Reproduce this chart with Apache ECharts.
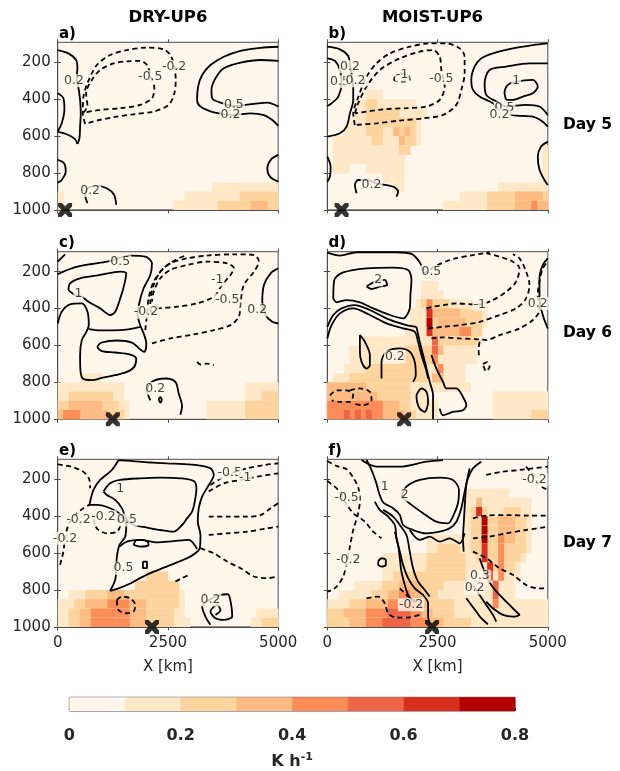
<!DOCTYPE html>
<html><head><meta charset="utf-8">
<script src="https://cdn.jsdelivr.net/npm/echarts@6/dist/echarts.min.js"></script>
<style>html,body{margin:0;padding:0;background:#fff}#c{width:620px;height:771px}</style>
</head><body><div id="c"></div>
<script>
// ---------- DATA ----------
const colTitles = ['DRY-UP6', 'MOIST-UP6'];
const dayLabels = ['Day 5', 'Day 6', 'Day 7'];
const panelLetters = ['a)', 'b)', 'c)', 'd)', 'e)', 'f)'];
const xTicks = [0, 2500, 5000];
const pTicks = [200, 400, 600, 800, 1000];
const cbBins = [0, 0.1, 0.2, 0.3, 0.4, 0.5, 0.6, 0.7, 0.8];
const cbTicks = [0, 0.2, 0.4, 0.6, 0.8];
const crossX = [167, 324, 1250, 1742, 2138, 2375];

// heating blocks: [pressure top (hPa, 50 hPa band), x start km, x end km, heating K/h]
const heatA = [
 [850,3500,5000,.15],
 [900,0,125,.15],[900,2875,5000,.15],[900,4125,5000,.25],
 [950,0,125,.15],[950,2625,5000,.15],[950,3625,5000,.25],[950,4375,4750,.35]
];
const heatB = [
 [350,875,1250,.15],
 [400,625,2000,.15],[400,875,1125,.25],
 [450,625,2250,.15],[450,875,1625,.25],
 [500,500,2125,.15],[500,875,2000,.25],
 [550,375,2125,.15],[550,875,1250,.25],[550,1500,2000,.25],[550,1500,1625,.35],[550,1750,1875,.35],
 [600,125,2125,.15],[600,1000,1250,.25],[600,1625,2000,.25],[600,1625,1750,.35],
 [650,125,1875,.15],[650,1625,1875,.25],[650,4875,5000,.15],
 [700,125,1750,.15],[700,4875,5000,.15],
 [750,125,500,.15],[750,875,1750,.15],[750,4875,5000,.15],
 [800,1250,1750,.15],[800,4875,5000,.15],
 [850,1500,1750,.15],[850,3875,5000,.15],
 [900,3000,5000,.15],[900,3625,5000,.25],[900,4250,4875,.35],
 [950,2625,5000,.15],[950,3625,5000,.25],[950,4250,5000,.35],[950,4625,4750,.45]
];
const heatC = [
 [750,500,1000,.15],
 [800,0,1500,.15],[800,4250,5000,.15],
 [850,0,1500,.15],[850,250,1250,.25],[850,4250,5000,.15],[850,4625,5000,.25],
 [900,0,1625,.15],[900,0,1375,.25],[900,250,1000,.35],[900,3375,5000,.15],[900,4250,5000,.25],
 [950,0,1625,.15],[950,0,1500,.25],[950,0,1125,.35],[950,125,500,.45],[950,3375,5000,.15],[950,4250,5000,.25]
];
const heatD = [
 [250,2125,2500,.15],
 [300,2125,2625,.15],
 [350,2000,3625,.15],[350,2125,2750,.25],[350,2250,2375,.45],
 [400,1875,3625,.15],[400,2375,3500,.25],[400,2375,3000,.35],[400,2250,2375,.65],
 [450,1875,3625,.15],[450,2375,3500,.25],[450,2500,3125,.35],[450,2250,2375,.75],
 [500,1750,3500,.15],[500,2375,3500,.25],[500,2375,3000,.35],[500,3000,3250,.45],[500,2250,2375,.65],
 [550,750,3500,.15],[550,2375,3375,.25],[550,2375,2500,.55],
 [600,500,3375,.15],[600,1750,2500,.25],[600,2375,2625,.35],[600,2375,2500,.55],
 [650,500,3375,.15],[650,1625,2375,.25],[650,2375,2500,.45],
 [700,375,3125,.15],[700,875,2250,.25],[700,2500,2625,.45],
 [750,125,3125,.15],[750,500,2250,.25],[750,2375,2625,.35],
 [800,0,3250,.15],[800,0,1875,.25],[800,0,875,.35],
 [850,0,2250,.15],[850,0,1875,.25],[850,0,1125,.35],[850,3750,5000,.15],
 [900,0,2500,.15],[900,0,1875,.25],[900,0,1625,.35],[900,0,1250,.45],[900,3750,5000,.15],
 [950,0,2500,.15],[950,0,2000,.25],[950,0,1750,.35],[950,0,1250,.45],[950,375,500,.55],[950,625,750,.55],[950,875,1000,.55],[950,3750,5000,.15],[950,4625,5000,.25]
];
const heatE = [
 [700,2000,2500,.25],
 [750,1750,2750,.25],
 [800,250,2875,.15],[800,625,2750,.25],[800,1125,1500,.35],
 [850,0,2875,.15],[850,375,2750,.25],[850,625,1125,.35],[850,1125,1625,.45],[850,1625,2000,.35],
 [900,0,2875,.15],[900,250,2625,.25],[900,500,2000,.35],[900,750,1625,.45],[900,4500,5000,.15],
 [950,0,3000,.15],[950,250,2625,.25],[950,500,2000,.35],[950,750,1625,.45],[950,4375,5000,.15],[950,4625,5000,.25]
];
const heatF = [
 [250,3125,4125,.15],
 [300,3125,4625,.15],[300,3375,3500,.35],
 [350,3125,4625,.15],[350,3250,3625,.25],[350,4000,4375,.25],[350,3375,3500,.65],
 [400,3125,4625,.15],[400,3250,4500,.25],[400,3875,4250,.35],[400,3500,3625,.75],
 [450,3125,4625,.15],[450,3250,4500,.25],[450,3875,4250,.35],[450,3500,3625,.75],
 [500,2250,4625,.15],[500,3250,4500,.25],[500,3875,4250,.35],[500,3875,4000,.45],[500,3500,3625,.75],
 [550,2250,4625,.15],[550,2500,3000,.25],[550,3250,4500,.25],[550,3875,4000,.45],[550,3500,3625,.65],
 [600,1250,4500,.15],[600,2250,3125,.25],[600,3375,4375,.25],[600,3875,4000,.45],[600,3500,3625,.65],
 [650,1250,4375,.15],[650,2250,3125,.25],[650,3625,4250,.25],[650,3875,4000,.45],[650,3625,3750,.65],
 [700,1250,4375,.15],[700,1500,3125,.25],[700,3875,4000,.45],[700,3625,3750,.55],
 [750,625,4250,.15],[750,1250,2625,.25],[750,1625,2125,.35],[750,3750,3875,.55],
 [800,250,4250,.15],[800,1000,2500,.25],[800,1375,2125,.35],[800,1625,1875,.45],[800,3750,3875,.55],
 [850,0,5000,.15],[850,500,2875,.25],[850,875,2250,.35],[850,1375,2000,.45],[850,3750,3875,.45],
 [900,0,5000,.15],[900,0,2875,.25],[900,375,2375,.35],[900,875,2125,.45],[900,1375,1875,.55],
 [950,0,5000,.15],[950,0,3250,.25],[950,500,2625,.35],[950,875,2250,.45],[950,1250,1875,.55]
];

// contours: positive (solid) and negative (dashed), points [x km, p hPa]
const posA = [
 [[0,134],[243,152],[417,188],[447,233],[432,278],[478,350],[508,404],[523,477],[508,549],[493,612],[447,643]],
 [[0,368],[129,395],[152,458],[91,531],[0,576]],
 [[0,576],[243,594],[394,617],[447,643]],
 [[5000,116],[4601,122],[4146,138],[3767,170],[3464,215],[3275,269],[3184,332],[3161,404],[3237,440],[3540,471],[3995,486],[4374,477],[4677,486],[4866,513],[5000,545]],
 [[5000,193],[4601,188],[4146,202],[3767,233],[3578,287],[3487,350],[3502,395],[3729,422],[3995,437],[4450,426],[4753,419],[5000,440]],
 [[5000,702],[4844,725],[4753,774],[4813,820],[5000,847]],
 [[0,729],[144,747],[182,792],[91,838],[0,852]],
 [[675,964],[622,919],[675,883],[887,870],[1114,883],[1281,919],[1327,973]]
];
const negA = [
 [[622,534],[568,477],[584,386],[675,314],[887,215],[1190,161],[1569,134],[2024,121],[2403,130],[2555,161],[2645,224],[2676,296],[2645,368],[2517,431],[2176,467],[1721,482],[1266,498],[887,516],[622,534]],
 [[584,473],[675,437],[644,368],[773,296],[963,242],[1266,206],[1569,195],[1872,193],[2024,215],[2115,278],[2191,341],[2138,395],[1872,431],[1418,449],[963,458],[584,473]]
];
const lblA = [[371,300,'0.2'],[2100,278,'-0.5'],[2640,224,'-0.2'],[3995,430,'0.5'],[3919,486,'0.2'],[735,895,'0.2']];

const posB = [
 [[0,116],[287,130],[475,166],[513,215],[588,332],[588,404],[513,477],[437,549],[287,585],[0,603]],
 [[0,179],[173,193],[287,242],[324,314],[249,386],[98,422],[0,437]],
 [[0,711],[75,765],[60,819],[0,847]],
 [[5000,98],[4660,107],[4208,125],[3755,152],[3491,179],[3340,224],[3265,296],[3303,350],[3453,386],[3755,422],[3906,458],[4208,486],[4660,495],[4886,522],[5000,549]],
 [[5000,206],[4584,206],[4057,224],[3680,242],[3567,314],[3604,377],[3831,413],[4057,440],[4509,431],[4811,440],[5000,486]],
 [[4057,404],[4019,368],[4095,323],[4283,305],[4660,296],[4773,332],[4660,368],[4434,386],[4208,404],[4057,404]],
 [[5000,630],[4848,657],[4773,711],[4811,783],[4924,838],[5000,865]],
 [[664,910],[626,865],[701,838],[890,838],[1116,856],[1493,874],[1606,901],[1568,928]]
];
const negB = [
 [[626,540],[588,477],[679,404],[890,278],[1116,206],[1418,152],[1870,116],[2322,98],[2699,98],[3001,125],[3114,170],[3114,260],[3039,350],[2926,431],[2624,486],[2172,504],[1644,516],[1116,531],[626,540]],
 [[626,477],[701,422],[890,332],[1191,242],[1644,179],[2096,143],[2398,134],[2549,170],[2586,242],[2662,332],[2549,404],[2247,440],[1795,449],[1267,455],[626,477]],
 [[1516,287],[1644,260],[1832,269],[1870,296],[1644,305],[1516,296],[1516,287]]
];
const lblB = [[4283,300,'1'],[4019,449,'0.5'],[3906,486,'0.2'],[2586,287,'-0.5'],[1700,270,'-1'],[1003,865,'0.2'],[287,305,'0.5'],[513,224,'0.2'],[640,300,'0.2']];

const posC = [
 [[0,481],[91,417],[280,377],[546,372],[675,417],[705,490],[644,529],[546,571],[508,652],[515,734],[569,779],[773,788],[1001,776],[1304,761],[1569,743],[1736,716],[1781,671],[1645,649],[1304,638],[1001,631],[902,607],[1001,584],[1342,573],[1683,585],[1963,634],[2009,589],[1963,544],[1872,490],[1812,435],[1857,363],[1948,290],[2100,218],[2138,155],[1986,119],[1645,113],[1114,146],[735,160],[318,182],[0,214]],
 [[705,511],[963,518],[1417,517],[1872,499]],
 [[243,300],[280,263],[508,236],[963,218],[1418,200],[1554,209],[1508,272],[1418,345],[1304,417],[1190,435],[963,399],[697,363],[546,336],[394,327],[243,300]],
 [[0,146],[167,106]],
 [[5000,182],[4829,209],[4677,272],[4639,363],[4715,435],[4866,472],[5000,481]],
 [[2100,897],[2024,843],[2138,797],[2441,779],[2668,797],[2744,860],[2820,928],[2782,975]],
 [[2290,890],[2327,880],[2360,895],[2327,910],[2290,890]]
];
const negC = [
 [[1986,517],[2024,435],[2062,345],[2176,254],[2403,182],[2668,137],[2934,109]],
 [[2138,589],[2554,562],[3085,540],[3540,517],[3919,490],[4108,444],[4146,363],[4222,272],[4449,200],[4563,146],[4449,109],[3995,106],[3388,113],[2934,128],[2554,155],[2327,200],[2176,272],[2100,363],[2115,435]],
 [[2251,399],[2706,390],[3161,372],[3540,336],[3729,272],[3919,218],[3995,182],[3843,155],[3388,146],[2934,164],[2554,191],[2327,236],[2176,309],[2138,363]],
 [[3161,689],[3237,703],[3388,698],[3540,707]]
];
const lblC = [[1418,146,'0.5'],[470,322,'1'],[3616,245,'-1'],[3843,354,'-0.5'],[4525,408,'0.2'],[2213,833,'0.2'],[2000,420,'-0.2']];

const posD = [
 [[0,97],[287,113],[664,95],[1116,95],[1568,95],[1908,104],[2097,150],[2172,196]],
 [[136,345],[158,245],[362,204],[890,182],[1493,178],[1832,191],[1908,245],[1885,327],[1870,399],[1719,453],[1418,435],[1040,399],[739,366],[437,354],[211,366],[136,345]],
 [[890,281],[1080,254],[1304,245],[1357,272],[1191,281],[1003,294],[890,281]],
 [[0,562],[98,489],[287,426],[588,399],[965,435],[1342,480],[1719,507],[1983,526],[2058,580],[2134,652],[2232,725],[2285,779]],
 [[0,499],[136,435],[324,399],[626,381],[965,408],[1380,457],[1795,490],[2021,499]],
 [[2021,499],[2134,616],[2232,707],[2322,797],[2398,869],[2398,1000]],
 [[2360,652],[2473,725],[2624,797],[2699,833],[2926,833],[3077,879],[3152,924],[3077,951],[2850,960],[2624,978],[2549,942]],
 [[2021,870],[2134,833],[2247,851],[2285,906],[2209,960],[2096,942],[2036,906],[2021,870]],
 [[739,598],[739,544],[852,580],[965,652],[965,707],[890,725],[777,689],[739,634],[739,598]],
 [[1229,779],[1229,689],[1342,634],[1644,616],[1870,634],[1983,689],[2006,761],[1945,797]],
 [[5000,128],[4886,164],[4811,236],[4811,345],[4886,435],[5000,508]]
];
const negD = [
 [[2247,399],[2398,390],[2624,381],[2926,372],[3303,377],[3454,377],[3755,354],[4057,309],[4283,254],[4358,182],[4208,146],[3906,119],[3604,100]],
 [[2285,508],[2624,499],[3001,490],[3454,472],[3906,435],[4283,399],[4509,345],[4584,272],[4509,200],[4358,128],[4208,106]],
 [[2360,562],[2624,556],[3001,562],[3454,567],[3604,571],[3906,544],[4358,508],[4660,462],[4811,408],[4773,318],[4811,254],[4886,182],[5000,146]],
 [[2172,214],[2473,168],[2850,132],[3303,110],[3680,95]],
 [[3454,580],[3430,620],[3440,660]],
 [[3530,700],[3620,690],[3680,715],[3600,740],[3530,700]],
 [[60,870],[211,843],[437,843],[588,870],[513,906],[287,906],[98,897]],
 [[513,843],[739,833],[965,851],[1003,897],[814,924],[588,915]]
];
const lblD = [[2360,200,'0.5'],[3454,377,'-1'],[1153,245,'2'],[1531,662,'0.2'],[4773,372,'0.2']];

const posE = [
 [[1380,96],[1228,150],[963,204],[811,258],[720,339],[887,339],[1190,357],[1417,390],[1554,448],[1531,511],[1402,556],[1342,619],[1327,682],[1304,745],[1190,805],[1380,791],[1607,769],[1834,740],[2100,709],[2403,679],[2706,650],[3009,619],[3222,574],[3237,502],[3176,430],[3199,357],[3275,294],[3426,231],[3540,177],[3464,141],[3237,126],[2933,119],[2479,114],[2024,108],[1645,101],[1380,96]],
 [[1038,267],[1190,222],[1417,204],[1872,195],[2327,191],[2782,195],[3085,210],[3146,249],[3108,321],[3047,375],[2933,412],[2820,448],[2630,484],[2327,475],[2024,462],[1721,448],[1569,421],[1455,357],[1304,312],[1114,285],[1038,267]],
 [[1402,565],[1569,538],[1872,529],[2251,542],[2630,535],[2971,529],[3161,578]],
 [[1721,556],[1796,529],[2024,535],[2062,556],[1872,565],[1721,556]],
 [[1933,646],[2024,646],[2024,682],[1933,682],[1933,646]],
 [[3464,989],[3350,944],[3275,890],[3426,854],[3691,827],[3858,823],[3934,881],[3957,944],[3767,962],[3578,953],[3464,917],[3616,881],[3691,908],[3578,935]]
];
const negE = [
 [[0,120],[318,133],[584,160],[720,204],[735,249]],
 [[53,664],[129,592],[167,520],[243,448],[394,394],[584,357],[720,339]],
 [[811,412],[887,466],[1114,493],[1342,484],[1417,448],[1304,403]],
 [[1342,854],[1455,836],[1645,845],[1759,881],[1721,917],[1569,926],[1380,908],[1342,854]],
 [[3464,231],[3843,177],[4298,141],[4677,123],[5000,114]],
 [[3426,267],[3767,222],[4146,204],[4525,186],[5000,168]],
 [[3426,403],[3843,403],[4298,403],[4601,394],[4829,357],[5000,330]],
 [[3426,502],[3843,493],[4298,484],[4753,466],[5000,457]],
 [[3237,574],[3540,601],[3843,646],[4146,682],[4449,727],[4753,736],[5000,727]],
 [[2668,754],[2820,736],[2971,718]]
];
const lblE = [[1417,249,'1'],[1569,421,'0.5'],[1493,682,'0.5'],[167,520,'-0.2'],[470,420,'-0.2'],[1038,403,'-0.2'],[3464,854,'0.2'],[3900,165,'-0.5'],[4250,190,'-1']];

const posF = [
 [[890,96],[1003,150],[1101,213],[1176,276],[1267,325],[1493,357],[1644,393],[1719,448],[1945,475],[2247,493],[2549,484],[2775,466],[2926,430],[3039,357],[3114,267],[3190,195],[3303,141],[3491,105]],
 [[1681,294],[1795,240],[2096,204],[2549,191],[2850,204],[2986,258],[2963,330],[2865,393],[2737,439],[2473,430],[2172,384],[1908,339],[1681,294]],
 [[777,96],[1116,132],[1644,132],[2247,105],[2624,96]],
 [[1078,321],[1191,366],[1380,403],[1531,448],[1568,520],[1644,592],[1719,664],[1832,736],[1983,791],[2172,827],[2285,872],[2285,935],[2322,989]],
 [[1267,366],[1493,403],[1644,448],[1795,502],[1870,592],[1945,682],[2058,755],[2209,800],[2322,836]],
 [[1531,484],[1606,556],[1644,628],[1681,700],[1757,773],[1832,827],[1945,863]],
 [[1870,475],[2096,529],[2322,511],[2549,538],[2775,520],[3001,547],[3114,493]],
 [[3227,141],[3152,231],[3114,357],[3092,448],[3077,520],[3092,592]],
 [[3453,628],[3567,700],[3718,773],[3906,827],[4132,881],[4321,926],[4358,935],[4208,944],[3982,935],[3755,899],[3604,863]],
 [[3152,845],[3265,881],[3378,917],[3491,953],[3642,986]],
 [[3303,773],[3453,827],[3604,881],[3755,935],[3831,971]],
 [[1153,646],[1229,628],[1327,637],[1327,664],[1229,673],[1153,660],[1153,646]]
];
const negF = [
 [[0,101],[211,128],[437,146],[588,191],[701,245],[739,312],[701,384],[588,475],[513,565],[437,655],[362,727],[211,782],[98,800],[0,809]],
 [[0,210],[249,258],[400,321],[588,384],[852,430],[1040,484],[1229,520]],
 [[890,845],[1153,836],[1304,872],[1380,926],[1568,950],[1870,948],[2096,935]],
 [[1644,791],[1795,827],[1945,854],[2096,881],[2209,908]],
 [[3604,177],[3982,159],[4358,150],[4660,141],[5000,132]],
 [[4509,132],[4660,177],[4811,231],[5000,258]],
 [[3303,412],[3604,397],[4057,394],[4585,397],[5000,397]],
 [[3303,520],[3680,511],[4057,493],[4509,475],[5000,457]],
 [[3303,592],[3604,628],[3906,682],[4208,718],[4509,773],[4811,791],[5000,791]]
];
const lblF = [[1757,285,'2'],[1304,240,'1'],[475,637,'-0.2'],[437,300,'-0.5'],[1900,880,'-0.2'],[3340,790,'0.2'],[3460,725,'0.3'],[4698,204,'-0.2']];

// ---------- STYLE / LAYOUT ----------
const cbColors = ['#fff7ec','#fee8c8','#fdd49e','#fdbb84','#fc8d59','#ef6548','#d7301f','#b30000'];
const FONT = 'DejaVu Sans';
const gridLeft = [57.7, 327.3];
const gridTop = [42.3, 251.7, 459.3];
const gridW = 220.5, gridH = 167.6;
const bandH = 50;
const spine = '#4d4d4d';

function binColor(v) { return cbColors[Math.max(0, Math.min(7, Math.floor(v * 10 + 1e-6)))]; }
const plainNum = v => String(v);

const panels = [
 {heat: heatA, pos: posA, neg: negA, lbl: lblA},
 {heat: heatB, pos: posB, neg: negB, lbl: lblB},
 {heat: heatC, pos: posC, neg: negC, lbl: lblC},
 {heat: heatD, pos: posD, neg: negD, lbl: lblD},
 {heat: heatE, pos: posE, neg: negE, lbl: lblE},
 {heat: heatF, pos: posF, neg: negF, lbl: lblF}
];

const grid = [], xAxis = [], yAxis = [], series = [];
const crossPath = 'path://M0,0 L2.6,0 L5,2.4 L7.4,0 L10,0 L10,2.6 L7.6,5 L10,7.4 L10,10 L7.4,10 L5,7.6 L2.6,10 L0,10 L0,7.4 L2.4,5 L0,2.6 Z';

panels.forEach((pn, k) => {
  const col = k % 2, row = Math.floor(k / 2);
  grid.push({left: gridLeft[col], top: gridTop[row], width: gridW, height: gridH,
    show: true, backgroundColor: cbColors[0], borderColor: spine, borderWidth: 1});
  xAxis.push({gridIndex: k, type: 'value', min: 0, max: 5000, interval: 2500,
    axisLine: {show: true, lineStyle: {color: spine, width: 1}},
    axisTick: {show: true, length: 3.5, lineStyle: {color: spine}},
    axisLabel: {show: row === 2, fontSize: 15, color: '#262626', margin: 9, fontFamily: FONT, formatter: plainNum},
    splitLine: {show: false},
    name: row === 2 ? 'X [km]' : '', nameLocation: 'middle', nameGap: 33,
    nameTextStyle: {fontSize: 15, color: '#262626', fontFamily: FONT}});
  yAxis.push({gridIndex: k, type: 'value', inverse: true, min: 92, max: 1000,
    axisLine: {show: true, lineStyle: {color: spine, width: 1}},
    axisTick: {show: true, length: 3.5, customValues: pTicks, lineStyle: {color: spine}},
    axisLabel: {show: col === 0, customValues: pTicks, fontSize: 15, color: '#262626', margin: 7, fontFamily: FONT, formatter: plainNum},
    splitLine: {show: false}});
  series.push({type: 'custom', xAxisIndex: k, yAxisIndex: k, silent: true, clip: true, z: 1,
    encode: {x: [1, 2], y: 0},
    data: pn.heat,
    renderItem: (params, api) => {
      const a = api.coord([api.value(1), api.value(0)]);
      const b = api.coord([api.value(2), api.value(0) + bandH]);
      return {type: 'rect', shape: {x: a[0], y: a[1], width: b[0] - a[0] + 0.4, height: b[1] - a[1] + 0.4},
        style: {fill: binColor(api.value(3))}};
    }});
  pn.pos.forEach(c => series.push({type: 'line', xAxisIndex: k, yAxisIndex: k, data: c, symbol: 'none',
    smooth: 0.3, silent: true, clip: true, z: 3, lineStyle: {color: '#000', width: 1.8}}));
  pn.neg.forEach(c => series.push({type: 'line', xAxisIndex: k, yAxisIndex: k, data: c, symbol: 'none',
    smooth: 0.3, silent: true, clip: true, z: 3, lineStyle: {color: '#000', width: 1.8, type: [5, 3.5]}}));
  series.push({type: 'scatter', xAxisIndex: k, yAxisIndex: k, symbolSize: 0, silent: true, z: 5,
    data: pn.lbl.map(l => ({value: [l[0], l[1]], name: l[2]})),
    label: {show: true, position: 'inside', formatter: '{b}', fontSize: 12.5, color: '#111', fontFamily: FONT,
      backgroundColor: cbColors[0], padding: [0, 1]}});
  series.push({type: 'scatter', xAxisIndex: k, yAxisIndex: k, symbol: crossPath, symbolSize: 14,
    clip: false, silent: true, z: 10, itemStyle: {color: '#000'}, data: [[crossX[k], 1000]]});
});

// colorbar
const cbIdx = 6;
grid.push({left: 69.3, top: 697.3, width: 445.7, height: 22, show: true, borderColor: spine, borderWidth: 1});
xAxis.push({gridIndex: cbIdx, type: 'value', min: 0, max: 0.8, interval: 0.2,
  axisLine: {show: false}, axisTick: {show: true, inside: true, length: 3, lineStyle: {color: spine}},
  axisLabel: {fontSize: 16, fontWeight: 'bold', color: '#262626', margin: 17, fontFamily: FONT,
    formatter: v => (v === 0 ? '0' : v.toFixed(1))},
  splitLine: {show: false},
  name: 'K h{s|-1}', nameLocation: 'middle', nameGap: 41,
  nameTextStyle: {fontSize: 16, fontWeight: 'bold', color: '#262626', fontFamily: FONT,
    rich: {s: {fontSize: 11, fontWeight: 'bold', color: '#262626', fontFamily: FONT, padding: [0, 0, 9, 0]}}}});
yAxis.push({gridIndex: cbIdx, type: 'value', min: 0, max: 1, show: false});
series.push({type: 'custom', xAxisIndex: cbIdx, yAxisIndex: cbIdx, silent: true, z: 1,
  data: cbBins.slice(0, -1).map((b, i) => [b, cbBins[i + 1]]),
  encode: {x: [0, 1]},
  renderItem: (params, api) => {
    const a = api.coord([api.value(0), 1]);
    const b = api.coord([api.value(1), 0]);
    return {type: 'rect', shape: {x: a[0], y: a[1], width: b[0] - a[0] + 0.3, height: b[1] - a[1]},
      style: {fill: cbColors[params.dataIndex]}};
  }});

// mirrored ticks on top and right of each panel
panels.forEach((pn, k) => {
  xAxis.push({gridIndex: k, type: 'value', position: 'top', min: 0, max: 5000, interval: 2500,
    axisLine: {show: false}, axisLabel: {show: false}, splitLine: {show: false},
    axisTick: {show: true, length: 3, lineStyle: {color: spine}}});
  yAxis.push({gridIndex: k, type: 'value', position: 'right', inverse: true, min: 92, max: 1000,
    axisLine: {show: false}, axisLabel: {show: false, customValues: pTicks}, splitLine: {show: false},
    axisTick: {show: true, length: 3, customValues: pTicks, lineStyle: {color: spine}}});
});

// text
const graphic = [];
const titleX = [168, 432.5];
colTitles.forEach((t, i) => graphic.push({type: 'text', style: {text: t, x: titleX[i], y: 18,
  font: 'bold 16.5px "DejaVu Sans"', fill: '#000', align: 'center', verticalAlign: 'middle'}}));
const letterPos = [[59, 34], [328.5, 34], [59, 243], [328.5, 243], [59, 451], [328.5, 451]];
panelLetters.forEach((t, i) => graphic.push({type: 'text', style: {text: t, x: letterPos[i][0], y: letterPos[i][1],
  font: 'bold 15px "DejaVu Sans"', fill: '#000', align: 'left', verticalAlign: 'middle'}}));
const dayY = [125, 333, 543];
dayLabels.forEach((t, i) => graphic.push({type: 'text', style: {text: t, x: 563, y: dayY[i],
  font: 'bold 15.5px "DejaVu Sans"', fill: '#000', align: 'left', verticalAlign: 'middle'}}));

const chart = echarts.init(document.getElementById('c'), null, {renderer: 'canvas'});
chart.setOption({animation: false, textStyle: {fontFamily: FONT}, grid, xAxis, yAxis, series, graphic});
</script></body></html>
